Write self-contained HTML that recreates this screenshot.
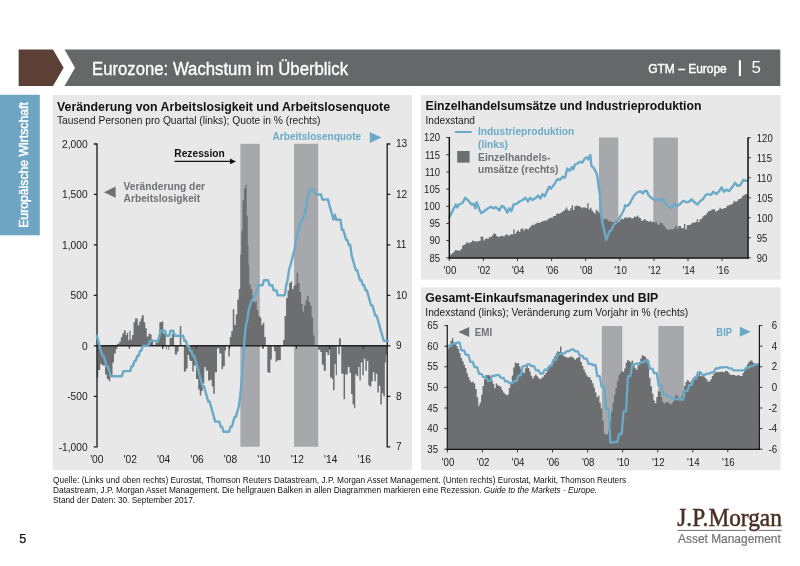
<!DOCTYPE html>
<html lang="de"><head><meta charset="utf-8"><title>Eurozone: Wachstum im Überblick</title>
<style>html,body{margin:0;padding:0;background:#fff}svg{display:block;filter:blur(0.3px)}text{font-family:"Liberation Sans",sans-serif}text.sf{font-family:"Liberation Serif",serif}</style>
</head><body>
<svg width="800" height="566" viewBox="0 0 800 566">
<rect x="0" y="0" width="800" height="566" fill="#fff"/>
<polygon points="18.6,49.6 53,49.6 63.6,67.8 53,86.1 18.6,86.1" fill="#5c4035"/>
<polygon points="64.5,49.6 780.3,49.6 780.3,86.1 64.5,86.1 75,67.8" fill="#666769"/>
<text x="92.0" y="75.3" font-size="18.5" fill="#fff" textLength="256.0" lengthAdjust="spacingAndGlyphs" stroke="#fff" stroke-width="0.35">Eurozone: Wachstum im Überblick</text>
<text x="648.2" y="72.7" font-size="13.3" fill="#fff" textLength="78.6" lengthAdjust="spacingAndGlyphs" stroke="#fff" stroke-width="0.45">GTM – Europe</text>
<rect x="738.8" y="60.3" width="2.2" height="15.8" fill="#fff"/>
<text x="751.4" y="73.4" font-size="17" fill="#fff">5</text>
<rect x="0" y="94.8" width="39.8" height="140.5" fill="#6da5c3"/>
<text transform="translate(27.6,227.8) rotate(-90)" font-size="12" fill="#fff" stroke="#fff" stroke-width="0.45" textLength="125.6" lengthAdjust="spacingAndGlyphs">Europäische Wirtschaft</text>
<rect x="52.6" y="95" width="359.4" height="375.1" fill="#e8e8e9"/>
<rect x="421" y="95" width="359.6" height="184.6" fill="#e8e8e9"/>
<rect x="421" y="287.3" width="359.6" height="182.8" fill="#e8e8e9"/>
<text x="57.0" y="111.0" font-size="12.3" fill="#111" font-weight="bold" textLength="333.0" lengthAdjust="spacingAndGlyphs">Veränderung von Arbeitslosigkeit und Arbeitslosenquote</text>
<text x="57.0" y="123.8" font-size="10.25" fill="#1a1a1a" textLength="263.5" lengthAdjust="spacingAndGlyphs">Tausend Personen pro Quartal (links); Quote in % (rechts)</text>
<rect x="240.4" y="143.8" width="19.4" height="303" fill="#a7a8ab"/>
<rect x="294.1" y="143.8" width="24.1" height="303" fill="#a7a8ab"/>
<path d="M117.03 343.75h2.25v2.05h-2.25zM119.28 341.80h1.50v4.00h-1.50zM120.78 337.30h1.50v8.50h-1.50zM122.28 333.54h1.50v12.26h-1.50zM123.78 330.54h1.96v15.26h-1.96zM125.74 335.05h1.20v10.75h-1.20zM126.94 332.79h1.20v13.01h-1.20zM128.14 340.30h1.20v5.50h-1.20zM129.34 330.84h1.20v14.96h-1.20zM130.54 339.55h1.50v6.25h-1.50zM132.04 335.05h1.50v10.75h-1.50zM133.54 322.28h1.51v23.52h-1.51zM135.05 318.53h2.70v27.27h-2.70zM137.75 325.29h1.50v20.51h-1.50zM139.25 321.53h1.50v24.27h-1.50zM140.75 318.53h1.05v27.27h-1.05zM141.80 315.23h1.95v30.57h-1.95zM143.75 322.28h1.51v23.52h-1.51zM145.26 328.29h1.50v17.51h-1.50zM146.76 336.55h1.80v9.25h-1.80zM148.56 333.54h1.50v12.26h-1.50zM150.06 334.29h1.50v11.51h-1.50zM151.56 339.55h1.50v6.25h-1.50zM155.32 342.55h3.00v3.25h-3.00zM158.32 335.05h1.05v10.75h-1.05zM159.37 322.28h1.95v23.52h-1.95zM161.32 321.53h1.95v24.27h-1.95zM163.27 333.54h2.56v12.26h-2.56zM169.58 338.05h2.25v7.75h-2.25zM171.83 333.54h2.25v12.26h-2.25zM179.79 326.04h1.50v19.76h-1.50zM162.52 345.80h0.90v2.76h-0.90zM166.13 345.80h0.90v3.51h-0.90zM168.38 345.80h0.90v4.26h-0.90zM174.83 345.80h2.26v8.76h-2.26zM177.09 345.80h1.50v5.76h-1.50zM96.76 345.80h1.50v31.74h-1.50zM98.26 345.80h1.95v24.23h-1.95zM100.21 345.80h1.80v18.22h-1.80zM102.01 345.80h3.01v19.73h-3.01zM105.02 345.80h1.80v28.73h-1.80zM106.82 345.80h1.95v33.24h-1.95zM108.77 345.80h1.50v35.49h-1.50zM110.27 345.80h2.25v29.49h-2.25zM112.52 345.80h1.50v16.72h-1.50zM114.02 345.80h1.81v7.71h-1.81zM115.83 345.80h1.50v3.21h-1.50zM183.84 345.80h2.26v25.73h-2.26zM186.10 345.80h1.50v22.73h-1.50zM187.60 345.80h1.50v9.22h-1.50zM189.10 345.80h0.90v13.72h-0.90zM190.00 345.80h2.25v15.22h-2.25zM192.25 345.80h1.50v25.73h-1.50zM193.75 345.80h2.26v19.73h-2.26zM196.01 345.80h2.25v33.24h-2.25zM198.26 345.80h1.50v43.75h-1.50zM199.76 345.80h1.50v49.76h-1.50zM201.26 345.80h1.50v45.25h-1.50zM202.76 345.80h1.50v37.74h-1.50zM204.26 345.80h1.51v21.23h-1.51zM205.77 345.80h2.25v24.98h-2.25zM208.02 345.80h2.25v34.74h-2.25zM210.27 345.80h1.50v33.99h-1.50zM211.77 345.80h1.50v40.75h-1.50zM213.27 345.80h1.50v47.95h-1.50zM214.77 345.80h2.26v26.48h-2.26zM217.03 345.80h2.25v2.46h-2.25zM219.28 345.80h2.25v7.71h-2.25zM221.53 345.80h1.50v23.48h-1.50zM223.03 345.80h1.80v20.48h-1.80zM224.83 345.80h1.21v4.71h-1.21zM228.29 345.80h1.50v10.72h-1.50zM262.37 345.80h1.20v2.46h-1.20zM267.33 345.80h1.50v26.48h-1.50zM268.83 345.80h1.50v27.23h-1.50zM270.33 345.80h1.50v13.72h-1.50zM274.08 345.80h1.51v5.46h-1.51zM275.59 345.80h1.50v15.97h-1.50zM277.09 345.80h3.75v14.47h-3.75zM229.76 337.06h1.50v8.74h-1.50zM231.26 331.05h1.50v14.75h-1.50zM232.76 309.28h1.50v36.52h-1.50zM234.26 325.05h1.51v20.75h-1.51zM235.77 314.53h1.50v31.27h-1.50zM237.27 299.52h1.50v46.28h-1.50zM238.77 289.01h1.50v56.79h-1.50zM240.27 254.47h1.05v91.33h-1.05zM241.32 230.45h1.20v115.35h-1.20zM242.52 200.42h1.50v145.38h-1.50zM244.02 188.41h1.51v157.39h-1.51zM245.53 184.65h1.20v161.15h-1.20zM246.73 215.44h1.05v130.36h-1.05zM247.78 245.47h0.75v100.33h-0.75zM248.53 264.98h0.75v80.82h-0.75zM249.28 284.50h1.50v61.30h-1.50zM250.78 289.01h1.50v56.79h-1.50zM252.28 296.52h1.50v49.28h-1.50zM253.78 302.52h1.51v43.28h-1.51zM255.29 301.02h1.50v44.78h-1.50zM256.79 310.03h1.50v35.77h-1.50zM258.29 316.04h1.50v29.76h-1.50zM259.79 317.54h1.50v28.26h-1.50zM261.29 325.05h1.50v20.75h-1.50zM262.79 322.79h1.50v23.01h-1.50zM264.29 337.06h1.51v8.74h-1.51zM283.06 340.06h1.50v5.74h-1.50zM284.56 316.04h1.51v29.76h-1.51zM286.07 298.02h1.50v47.78h-1.50zM287.57 290.51h1.50v55.29h-1.50zM289.07 283.00h1.50v62.80h-1.50zM290.57 281.50h1.50v64.30h-1.50zM292.07 289.01h1.50v56.79h-1.50zM293.57 286.01h1.51v59.79h-1.51zM295.08 284.50h1.50v61.30h-1.50zM296.58 272.79h1.50v73.01h-1.50zM298.08 283.00h1.50v62.80h-1.50zM299.58 292.01h1.50v53.79h-1.50zM301.08 304.02h1.50v41.78h-1.50zM302.58 311.53h1.50v34.27h-1.50zM304.08 305.53h1.51v40.27h-1.51zM305.59 300.27h1.50v45.53h-1.50zM307.09 295.77h1.50v50.03h-1.50zM308.59 301.77h1.50v44.03h-1.50zM310.09 305.53h1.50v40.27h-1.50zM311.59 317.54h1.50v28.26h-1.50zM313.09 335.56h1.50v10.24h-1.50zM338.92 338.56h1.20v7.24h-1.20zM318.02 345.80h2.25v3.97h-2.25zM320.27 345.80h1.50v6.23h-1.50zM321.77 345.80h1.95v18.99h-1.95zM323.72 345.80h2.11v25.00h-2.11zM325.83 345.80h1.50v6.23h-1.50zM327.33 345.80h1.95v9.23h-1.95zM329.28 345.80h0.75v3.97h-0.75zM330.03 345.80h1.80v31.75h-1.80zM331.83 345.80h1.20v33.25h-1.20zM333.03 345.80h1.50v44.52h-1.50zM334.53 345.80h1.21v18.24h-1.21zM335.74 345.80h1.20v29.50h-1.20zM338.29 345.80h1.50v8.48h-1.50zM341.29 345.80h2.25v28.00h-2.25zM343.54 345.80h1.51v53.52h-1.51zM345.05 345.80h2.70v28.75h-2.70zM347.75 345.80h1.80v21.24h-1.80zM349.55 345.80h1.50v27.25h-1.50zM351.05 345.80h1.50v48.27h-1.50zM352.55 345.80h1.50v58.78h-1.50zM354.05 345.80h1.21v62.53h-1.21zM355.26 345.80h1.50v28.75h-1.50zM356.76 345.80h1.50v30.25h-1.50zM358.26 345.80h1.20v21.24h-1.20zM359.46 345.80h1.35v34.76h-1.35zM360.81 345.80h1.50v16.74h-1.50zM362.31 345.80h1.50v29.50h-1.50zM363.81 345.80h1.51v12.98h-1.51zM365.32 345.80h1.50v25.00h-1.50zM366.82 345.80h1.50v15.24h-1.50zM368.32 345.80h1.05v39.26h-1.05zM369.37 345.80h1.95v40.76h-1.95zM371.32 345.80h1.50v35.51h-1.50zM372.82 345.80h1.50v26.50h-1.50zM374.32 345.80h1.51v35.51h-1.51zM375.83 345.80h1.50v28.00h-1.50zM377.33 345.80h1.50v46.77h-1.50zM378.83 345.80h1.50v40.01h-1.50zM380.33 345.80h1.50v58.78h-1.50zM381.83 345.80h1.50v47.52h-1.50zM383.33 345.80h1.50v50.52h-1.50zM384.83 345.80h1.06v16.74h-1.06zM385.89 345.80h1.20v9.23h-1.20zM339.34 338.21h1.50v7.59h-1.50z" fill="#6d6e70"/>
<path d="M93.8 144H97V446.8H93.8M93.8 194.4H97M93.8 244.9H97M93.8 295.3H97M93.8 345.8H97M93.8 396.3H97" fill="none" stroke="#1a1a1a" stroke-width="1.3"/>
<path d="M390.3 144H387.2V446.8H390.3M387.2 194.4H390.3M387.2 244.9H390.3M387.2 295.3H390.3M387.2 345.8H390.3M387.2 396.3H390.3" fill="none" stroke="#1a1a1a" stroke-width="1.3"/>
<path d="M96.5 345.8H387.5" stroke="#222" stroke-width="1.6" fill="none"/><path d="M129.3 345.8v3M162.7 345.8v3M196.2 345.8v3M229.6 345.8v3M263.0 345.8v3M296.4 345.8v3M329.8 345.8v3M363.3 345.8v3" stroke="#222" stroke-width="1" fill="none"/>
<polyline points="96.8,335.8 98.2,340.9 99.6,345.9 101.0,350.9 102.4,356.0 103.8,356.0 105.2,361.0 106.5,366.1 107.9,366.1 109.3,371.1 110.7,376.2 112.1,376.2 113.5,376.2 114.9,376.2 116.3,376.2 117.7,376.2 119.1,376.2 120.5,376.2 121.9,376.2 123.3,371.1 124.7,371.1 126.0,371.1 127.4,371.1 128.8,371.1 130.2,371.1 131.6,366.1 133.0,366.1 134.4,361.0 135.8,361.0 137.2,356.0 138.6,356.0 140.0,350.9 141.4,350.9 142.8,345.9 144.1,345.9 145.5,345.9 146.9,345.9 148.3,345.9 149.7,340.9 151.1,340.9 152.5,340.9 153.9,340.9 155.3,340.9 156.7,340.9 158.1,340.9 159.5,335.8 160.9,330.8 162.2,330.8 163.6,330.8 165.0,330.8 166.4,335.8 167.8,335.8 169.2,335.8 170.6,330.8 172.0,330.8 173.4,330.8 174.8,335.8 176.2,335.8 177.6,335.8 179.0,335.8 180.4,335.8 181.7,335.8 183.1,335.8 184.5,340.9 185.9,340.9 187.3,345.9 188.7,345.9 190.1,350.9 191.5,350.9 192.9,356.0 194.3,356.0 195.7,361.0 197.1,366.1 198.5,371.1 199.8,376.2 201.2,381.2 202.6,386.3 204.0,386.3 205.4,391.3 206.8,396.4 208.2,401.4 209.6,401.4 211.0,406.5 212.4,411.5 213.8,416.6 215.2,421.6 216.6,421.6 217.9,421.6 219.3,421.6 220.7,426.7 222.1,426.7 223.5,431.7 224.9,431.7 226.3,431.7 227.7,431.7 229.1,431.7 230.5,426.7 231.9,426.7 233.3,421.6 234.7,416.6 236.1,416.6 237.4,411.5 238.8,406.5 240.2,396.4 241.6,381.2 243.0,361.0 244.4,340.9 245.8,325.7 247.2,320.7 248.6,310.6 250.0,305.5 251.4,300.5 252.8,300.5 254.2,295.4 255.5,295.4 256.9,290.4 258.3,285.3 259.7,285.3 261.1,285.3 262.5,285.3 263.9,280.3 265.3,280.3 266.7,280.3 268.1,280.3 269.5,285.3 270.9,285.3 272.3,285.3 273.6,290.4 275.0,290.4 276.4,290.4 277.8,295.4 279.2,295.4 280.6,295.4 282.0,295.4 283.4,295.4 284.8,295.4 286.2,285.3 287.6,280.3 289.0,270.2 290.4,265.1 291.8,260.1 293.1,255.1 294.5,250.0 295.9,239.9 297.3,234.9 298.7,229.8 300.1,224.8 301.5,219.7 302.9,219.7 304.3,214.7 305.7,209.6 307.1,199.5 308.5,194.5 309.9,189.4 311.2,189.4 312.6,189.4 314.0,189.4 315.4,194.5 316.8,194.5 318.2,194.5 319.6,194.5 321.0,194.5 322.4,199.5 323.8,199.5 325.2,199.5 326.6,199.5 328.0,199.5 329.3,204.6 330.7,209.6 332.1,214.7 333.5,219.7 334.9,214.7 336.3,219.7 337.7,219.7 339.1,219.7 340.5,219.7 341.9,229.8 343.3,229.8 344.7,234.9 346.1,239.9 347.4,239.9 348.8,245.0 350.2,245.0 351.6,255.1 353.0,260.1 354.4,265.1 355.8,270.2 357.2,270.2 358.6,275.2 360.0,280.3 361.4,280.3 362.8,285.3 364.2,285.3 365.6,290.4 366.9,290.4 368.3,295.4 369.7,300.5 371.1,305.5 372.5,305.5 373.9,310.6 375.3,315.6 376.7,315.6 378.1,320.7 379.5,325.7 380.9,330.8 382.3,335.8 383.7,340.9 385.0,340.9 386.4,340.9 387.8,340.9" fill="none" stroke="#6aaac8" stroke-width="2.4" stroke-linejoin="round" stroke-linecap="round"/>
<text x="87.6" y="147.7" font-size="10.2" fill="#1a1a1a" text-anchor="end">2,000</text>
<text x="87.6" y="198.1" font-size="10.2" fill="#1a1a1a" text-anchor="end">1,500</text>
<text x="87.6" y="248.6" font-size="10.2" fill="#1a1a1a" text-anchor="end">1,000</text>
<text x="87.6" y="299.1" font-size="10.2" fill="#1a1a1a" text-anchor="end">500</text>
<text x="87.6" y="349.5" font-size="10.2" fill="#1a1a1a" text-anchor="end">0</text>
<text x="87.6" y="400.0" font-size="10.2" fill="#1a1a1a" text-anchor="end">-500</text>
<text x="87.6" y="450.5" font-size="10.2" fill="#1a1a1a" text-anchor="end">-1,000</text>
<text x="395.9" y="147.3" font-size="10.2" fill="#1a1a1a">13</text>
<text x="395.9" y="197.8" font-size="10.2" fill="#1a1a1a">12</text>
<text x="395.9" y="248.2" font-size="10.2" fill="#1a1a1a">11</text>
<text x="395.9" y="298.7" font-size="10.2" fill="#1a1a1a">10</text>
<text x="395.9" y="349.2" font-size="10.2" fill="#1a1a1a">9</text>
<text x="395.9" y="399.7" font-size="10.2" fill="#1a1a1a">8</text>
<text x="395.9" y="450.1" font-size="10.2" fill="#1a1a1a">7</text>
<text x="96.8" y="462.7" font-size="10.2" fill="#1a1a1a" text-anchor="middle">'00</text>
<text x="130.2" y="462.7" font-size="10.2" fill="#1a1a1a" text-anchor="middle">'02</text>
<text x="163.6" y="462.7" font-size="10.2" fill="#1a1a1a" text-anchor="middle">'04</text>
<text x="197.1" y="462.7" font-size="10.2" fill="#1a1a1a" text-anchor="middle">'06</text>
<text x="230.5" y="462.7" font-size="10.2" fill="#1a1a1a" text-anchor="middle">'08</text>
<text x="263.9" y="462.7" font-size="10.2" fill="#1a1a1a" text-anchor="middle">'10</text>
<text x="297.3" y="462.7" font-size="10.2" fill="#1a1a1a" text-anchor="middle">'12</text>
<text x="330.7" y="462.7" font-size="10.2" fill="#1a1a1a" text-anchor="middle">'14</text>
<text x="364.2" y="462.7" font-size="10.2" fill="#1a1a1a" text-anchor="middle">'16</text>
<text x="174.3" y="157.0" font-size="10.2" fill="#111" font-weight="bold" textLength="50.5" lengthAdjust="spacingAndGlyphs">Rezession</text>
<path d="M174.5 161.4H231" stroke="#111" stroke-width="1.1" fill="none"/><polygon points="236,161.4 230,158.5 230,164.3" fill="#111"/>
<polygon points="104,192.2 115.6,186.6 115.6,197.8" fill="#6f7072"/>
<text x="123.6" y="189.6" font-size="10.2" fill="#6f7072" font-weight="bold" textLength="81.5" lengthAdjust="spacingAndGlyphs">Veränderung der</text>
<text x="123.6" y="202.2" font-size="10.2" fill="#6f7072" font-weight="bold" textLength="76.5" lengthAdjust="spacingAndGlyphs">Arbeitslosigkeit</text>
<text x="272.6" y="140.2" font-size="10.2" fill="#6aaac8" font-weight="bold" textLength="88.5" lengthAdjust="spacingAndGlyphs">Arbeitslosenquote</text>
<polygon points="381.5,137.5 369.8,132 369.8,143" fill="#6aaac8"/>
<text x="425.5" y="110.3" font-size="12.3" fill="#111" font-weight="bold" textLength="276.0" lengthAdjust="spacingAndGlyphs">Einzelhandelsumsätze und Industrieproduktion</text>
<text x="425.5" y="123.8" font-size="10.25" fill="#1a1a1a" textLength="49.5" lengthAdjust="spacingAndGlyphs">Indexstand</text>
<rect x="599" y="137.5" width="19.3" height="120.3" fill="#a7a8ab"/>
<rect x="653.4" y="137.5" width="24.5" height="120.3" fill="#a7a8ab"/>
<polygon points="449.3,257.8 449.3,255.3 450.7,255.3 450.7,254.2 452.1,254.2 452.1,253.0 453.6,253.0 453.6,251.5 455.0,251.5 455.0,249.9 456.4,249.9 456.4,250.5 457.8,250.5 457.8,250.8 459.3,250.8 459.3,250.5 460.7,250.5 460.7,248.9 462.1,248.9 462.1,245.6 463.5,245.6 463.5,245.1 464.9,245.1 464.9,243.7 466.4,243.7 466.4,242.0 467.8,242.0 467.8,243.2 469.2,243.2 469.2,242.7 470.6,242.7 470.6,242.1 472.0,242.1 472.0,240.5 473.5,240.5 473.5,241.3 474.9,241.3 474.9,241.3 476.3,241.3 476.3,241.6 477.7,241.6 477.7,241.2 479.2,241.2 479.2,240.7 480.6,240.7 480.6,236.5 482.0,236.5 482.0,236.8 483.4,236.8 483.4,240.6 484.8,240.6 484.8,238.8 486.3,238.8 486.3,238.5 487.7,238.5 487.7,238.7 489.1,238.7 489.1,236.7 490.5,236.7 490.5,236.9 492.0,236.9 492.0,235.3 493.4,235.3 493.4,233.2 494.8,233.2 494.8,233.9 496.2,233.9 496.2,236.0 497.6,236.0 497.6,236.9 499.1,236.9 499.1,236.4 500.5,236.4 500.5,236.0 501.9,236.0 501.9,235.8 503.3,235.8 503.3,236.7 504.7,236.7 504.7,234.9 506.2,234.9 506.2,234.3 507.6,234.3 507.6,235.6 509.0,235.6 509.0,235.5 510.4,235.5 510.4,234.2 511.9,234.2 511.9,234.6 513.3,234.6 513.3,229.4 514.7,229.4 514.7,234.0 516.1,234.0 516.1,231.5 517.5,231.5 517.5,230.4 519.0,230.4 519.0,232.0 520.4,232.0 520.4,229.1 521.8,229.1 521.8,228.3 523.2,228.3 523.2,230.6 524.7,230.6 524.7,228.7 526.1,228.7 526.1,228.8 527.5,228.8 527.5,229.4 528.9,229.4 528.9,227.7 530.3,227.7 530.3,226.3 531.8,226.3 531.8,224.7 533.2,224.7 533.2,225.3 534.6,225.3 534.6,223.8 536.0,223.8 536.0,223.2 537.4,223.2 537.4,222.5 538.9,222.5 538.9,223.1 540.3,223.1 540.3,222.1 541.7,222.1 541.7,221.6 543.1,221.6 543.1,220.8 544.6,220.8 544.6,220.5 546.0,220.5 546.0,220.4 547.4,220.4 547.4,219.2 548.8,219.2 548.8,218.2 550.2,218.2 550.2,217.8 551.7,217.8 551.7,217.8 553.1,217.8 553.1,216.1 554.5,216.1 554.5,216.0 555.9,216.0 555.9,214.2 557.3,214.2 557.3,213.2 558.8,213.2 558.8,213.8 560.2,213.8 560.2,212.9 561.6,212.9 561.6,211.8 563.0,211.8 563.0,211.1 564.5,211.1 564.5,209.5 565.9,209.5 565.9,207.4 567.3,207.4 567.3,210.0 568.7,210.0 568.7,211.0 570.1,211.0 570.1,208.6 571.6,208.6 571.6,205.3 573.0,205.3 573.0,209.9 574.4,209.9 574.4,206.2 575.8,206.2 575.8,205.7 577.3,205.7 577.3,205.8 578.7,205.8 578.7,206.3 580.1,206.3 580.1,207.0 581.5,207.0 581.5,208.2 582.9,208.2 582.9,207.3 584.4,207.3 584.4,207.5 585.8,207.5 585.8,208.3 587.2,208.3 587.2,203.3 588.6,203.3 588.6,209.5 590.0,209.5 590.0,207.8 591.5,207.8 591.5,210.4 592.9,210.4 592.9,212.3 594.3,212.3 594.3,213.5 595.7,213.5 595.7,209.7 597.2,209.7 597.2,211.2 598.6,211.2 598.6,213.1 600.0,213.1 600.0,215.4 601.4,215.4 601.4,216.3 602.8,216.3 602.8,219.3 604.3,219.3 604.3,219.6 605.7,219.6 605.7,218.5 607.1,218.5 607.1,219.9 608.5,219.9 608.5,221.5 610.0,221.5 610.0,221.2 611.4,221.2 611.4,222.1 612.8,222.1 612.8,222.1 614.2,222.1 614.2,222.3 615.6,222.3 615.6,219.9 617.1,219.9 617.1,221.2 618.5,221.2 618.5,221.8 619.9,221.8 619.9,219.6 621.3,219.6 621.3,218.7 622.7,218.7 622.7,219.3 624.2,219.3 624.2,217.8 625.6,217.8 625.6,217.2 627.0,217.2 627.0,218.2 628.4,218.2 628.4,217.1 629.9,217.1 629.9,217.8 631.3,217.8 631.3,218.4 632.7,218.4 632.7,217.9 634.1,217.9 634.1,216.3 635.5,216.3 635.5,217.0 637.0,217.0 637.0,215.6 638.4,215.6 638.4,217.6 639.8,217.6 639.8,218.2 641.2,218.2 641.2,221.1 642.7,221.1 642.7,220.1 644.1,220.1 644.1,218.9 645.5,218.9 645.5,220.4 646.9,220.4 646.9,221.1 648.3,221.1 648.3,221.7 649.8,221.7 649.8,220.8 651.2,220.8 651.2,222.0 652.6,222.0 652.6,221.7 654.0,221.7 654.0,223.0 655.4,223.0 655.4,221.6 656.9,221.6 656.9,224.2 658.3,224.2 658.3,225.3 659.7,225.3 659.7,222.5 661.1,222.5 661.1,223.1 662.6,223.1 662.6,225.2 664.0,225.2 664.0,226.2 665.4,226.2 665.4,228.3 666.8,228.3 666.8,229.7 668.2,229.7 668.2,229.9 669.7,229.9 669.7,229.2 671.1,229.2 671.1,228.9 672.5,228.9 672.5,229.5 673.9,229.5 673.9,227.8 675.4,227.8 675.4,225.6 676.8,225.6 676.8,228.5 678.2,228.5 678.2,226.1 679.6,226.1 679.6,226.0 681.0,226.0 681.0,227.9 682.5,227.9 682.5,228.2 683.9,228.2 683.9,224.0 685.3,224.0 685.3,229.2 686.7,229.2 686.7,225.2 688.1,225.2 688.1,224.9 689.6,224.9 689.6,224.7 691.0,224.7 691.0,223.6 692.4,223.6 692.4,222.5 693.8,222.5 693.8,222.8 695.3,222.8 695.3,222.0 696.7,222.0 696.7,219.3 698.1,219.3 698.1,222.3 699.5,222.3 699.5,219.3 700.9,219.3 700.9,218.8 702.4,218.8 702.4,216.5 703.8,216.5 703.8,215.5 705.2,215.5 705.2,214.7 706.6,214.7 706.6,212.7 708.0,212.7 708.0,211.2 709.5,211.2 709.5,211.0 710.9,211.0 710.9,209.7 712.3,209.7 712.3,209.3 713.7,209.3 713.7,209.2 715.2,209.2 715.2,211.5 716.6,211.5 716.6,210.7 718.0,210.7 718.0,210.0 719.4,210.0 719.4,207.7 720.8,207.7 720.8,208.7 722.3,208.7 722.3,209.0 723.7,209.0 723.7,208.0 725.1,208.0 725.1,207.9 726.5,207.9 726.5,205.8 728.0,205.8 728.0,205.4 729.4,205.4 729.4,204.7 730.8,204.7 730.8,204.4 732.2,204.4 732.2,203.5 733.6,203.5 733.6,200.7 735.1,200.7 735.1,202.1 736.5,202.1 736.5,201.0 737.9,201.0 737.9,199.3 739.3,199.3 739.3,199.0 740.7,199.0 740.7,198.0 742.2,198.0 742.2,196.1 743.6,196.1 743.6,194.9 745.0,194.9 745.0,193.9 746.4,193.9 746.4,194.6 747.7,194.6 747.7,257.8" fill="#6d6e70"/>
<polyline points="449.3,217.3 451.3,213.5 453.5,209.0 455.8,204.5 457.3,207.5 458.8,204.5 462.5,203.0 465.2,197.8 467.8,200.0 471.6,204.5 473.8,203.8 475.3,208.3 476.8,202.3 479.1,209.0 481.3,213.2 485.1,210.5 488.1,208.3 491.1,206.8 493.3,208.3 495.6,207.2 497.8,208.7 499.3,210.5 501.6,206.0 503.8,206.8 505.3,209.0 507.3,212.8 509.1,208.3 511.3,211.3 513.6,204.5 516.6,203.8 519.6,201.5 522.6,200.0 525.6,197.8 527.9,201.5 530.1,197.8 532.4,200.0 534.6,198.5 535.0,198.6 538.0,195.6 540.3,198.6 542.5,194.1 544.8,196.3 547.0,191.1 549.3,186.6 550.8,188.8 553.8,185.1 557.5,179.1 559.8,179.8 562.8,176.8 565.0,177.6 567.3,168.5 569.5,170.8 571.8,167.0 573.3,169.3 574.8,164.8 577.8,163.3 580.0,161.8 582.3,162.5 584.5,158.8 586.8,157.3 588.3,159.5 590.3,155.0 591.3,165.5 593.6,167.8 595.8,171.6 597.3,176.1 598.8,188.1 599.9,194.0 600.3,204.5 601.8,219.5 604.1,230.1 606.3,239.8 607.8,236.1 609.3,231.6 611.6,230.1 613.1,225.5 615.3,223.3 617.6,221.0 619.8,217.3 622.1,213.5 624.3,209.0 625.1,205.3 627.3,206.0 629.6,203.8 631.9,199.3 634.1,195.5 637.1,192.5 640.1,191.3 643.0,193.3 644.5,191.0 646.8,191.0 648.3,194.8 651.3,197.8 654.3,200.0 657.3,199.3 660.0,200.6 663.0,198.6 665.3,203.1 668.3,206.8 671.3,208.3 674.3,203.8 677.3,206.1 680.3,203.8 683.3,200.8 686.3,202.3 689.3,201.6 691.5,199.3 694.5,202.3 697.5,204.6 699.8,201.6 702.8,199.3 705.8,194.8 708.0,194.1 711.0,194.8 713.3,191.8 716.3,194.1 719.3,191.1 721.6,187.3 723.8,191.8 726.1,189.6 729.1,191.1 732.1,187.3 735.1,182.8 737.3,185.8 740.3,185.1 743.3,179.8 745.6,180.9 747.8,180.6" fill="none" stroke="#6aaac8" stroke-width="2.4" stroke-linejoin="round" stroke-linecap="round"/>
<path d="M449.3 137V258.6" fill="none" stroke="#111" stroke-width="1.5"/><path d="M446.2 137.5H449.3M446.2 154.7H449.3M446.2 171.9H449.3M446.2 189.1H449.3M446.2 206.3H449.3M446.2 223.4H449.3M446.2 240.6H449.3M446.2 257.8H449.3" fill="none" stroke="#222" stroke-width="0.9"/>
<path d="M748 137.3V258.6" fill="none" stroke="#111" stroke-width="1.5"/><path d="M750.8 137.8H748M750.8 157.8H748M750.8 177.8H748M750.8 197.8H748M750.8 217.8H748M750.8 237.8H748M750.8 257.8H748" fill="none" stroke="#222" stroke-width="0.9"/>
<path d="M448.6 258H748.7" fill="none" stroke="#111" stroke-width="1.4"/><path d="M449.3 258v3M483.4 258v3M517.5 258v3M551.6 258v3M585.7 258v3M619.8 258v3M653.9 258v3M688.0 258v3M722.1 258v3" fill="none" stroke="#222" stroke-width="0.9"/>
<text x="440.0" y="141.3" font-size="10.3" fill="#1a1a1a" text-anchor="end" textLength="15.9" lengthAdjust="spacingAndGlyphs">120</text>
<text x="440.0" y="158.5" font-size="10.3" fill="#1a1a1a" text-anchor="end" textLength="15.1" lengthAdjust="spacingAndGlyphs">115</text>
<text x="440.0" y="175.7" font-size="10.3" fill="#1a1a1a" text-anchor="end" textLength="15.1" lengthAdjust="spacingAndGlyphs">110</text>
<text x="440.0" y="192.9" font-size="10.3" fill="#1a1a1a" text-anchor="end" textLength="15.9" lengthAdjust="spacingAndGlyphs">105</text>
<text x="440.0" y="210.1" font-size="10.3" fill="#1a1a1a" text-anchor="end" textLength="15.9" lengthAdjust="spacingAndGlyphs">100</text>
<text x="440.0" y="227.2" font-size="10.3" fill="#1a1a1a" text-anchor="end" textLength="10.6" lengthAdjust="spacingAndGlyphs">95</text>
<text x="440.0" y="244.4" font-size="10.3" fill="#1a1a1a" text-anchor="end" textLength="10.6" lengthAdjust="spacingAndGlyphs">90</text>
<text x="440.0" y="261.6" font-size="10.3" fill="#1a1a1a" text-anchor="end" textLength="10.6" lengthAdjust="spacingAndGlyphs">85</text>
<text x="756.8" y="141.6" font-size="10.3" fill="#1a1a1a" textLength="15.9" lengthAdjust="spacingAndGlyphs">120</text>
<text x="756.8" y="161.6" font-size="10.3" fill="#1a1a1a" textLength="15.1" lengthAdjust="spacingAndGlyphs">115</text>
<text x="756.8" y="181.6" font-size="10.3" fill="#1a1a1a" textLength="15.1" lengthAdjust="spacingAndGlyphs">110</text>
<text x="756.8" y="201.6" font-size="10.3" fill="#1a1a1a" textLength="15.9" lengthAdjust="spacingAndGlyphs">105</text>
<text x="756.8" y="221.6" font-size="10.3" fill="#1a1a1a" textLength="15.9" lengthAdjust="spacingAndGlyphs">100</text>
<text x="756.8" y="241.6" font-size="10.3" fill="#1a1a1a" textLength="10.6" lengthAdjust="spacingAndGlyphs">95</text>
<text x="756.8" y="261.6" font-size="10.3" fill="#1a1a1a" textLength="10.6" lengthAdjust="spacingAndGlyphs">90</text>
<text x="450.0" y="273.9" font-size="10.3" fill="#1a1a1a" text-anchor="middle" textLength="12.6" lengthAdjust="spacingAndGlyphs">'00</text>
<text x="484.1" y="273.9" font-size="10.3" fill="#1a1a1a" text-anchor="middle" textLength="12.6" lengthAdjust="spacingAndGlyphs">'02</text>
<text x="518.2" y="273.9" font-size="10.3" fill="#1a1a1a" text-anchor="middle" textLength="12.6" lengthAdjust="spacingAndGlyphs">'04</text>
<text x="552.3" y="273.9" font-size="10.3" fill="#1a1a1a" text-anchor="middle" textLength="12.6" lengthAdjust="spacingAndGlyphs">'06</text>
<text x="586.4" y="273.9" font-size="10.3" fill="#1a1a1a" text-anchor="middle" textLength="12.6" lengthAdjust="spacingAndGlyphs">'08</text>
<text x="620.5" y="273.9" font-size="10.3" fill="#1a1a1a" text-anchor="middle" textLength="12.6" lengthAdjust="spacingAndGlyphs">'10</text>
<text x="654.6" y="273.9" font-size="10.3" fill="#1a1a1a" text-anchor="middle" textLength="12.6" lengthAdjust="spacingAndGlyphs">'12</text>
<text x="688.7" y="273.9" font-size="10.3" fill="#1a1a1a" text-anchor="middle" textLength="12.6" lengthAdjust="spacingAndGlyphs">'14</text>
<text x="722.8" y="273.9" font-size="10.3" fill="#1a1a1a" text-anchor="middle" textLength="12.6" lengthAdjust="spacingAndGlyphs">'16</text>
<path d="M455 132H471.7" stroke="#6aaac8" stroke-width="2" fill="none"/>
<text x="478.0" y="135.2" font-size="10.2" fill="#6aaac8" font-weight="bold" textLength="96.3" lengthAdjust="spacingAndGlyphs">Industrieproduktion</text>
<text x="478.0" y="147.5" font-size="10.2" fill="#6aaac8" font-weight="bold" textLength="30.0" lengthAdjust="spacingAndGlyphs">(links)</text>
<rect x="457.2" y="151" width="12.4" height="11.6" fill="#6d6e70"/>
<text x="478.0" y="161.0" font-size="10.2" fill="#6f7072" font-weight="bold" textLength="72.5" lengthAdjust="spacingAndGlyphs">Einzelhandels-</text>
<text x="478.0" y="173.4" font-size="10.2" fill="#6f7072" font-weight="bold" textLength="80.5" lengthAdjust="spacingAndGlyphs">umsätze (rechts)</text>
<text x="425.3" y="301.8" font-size="12.3" fill="#111" font-weight="bold" textLength="233.0" lengthAdjust="spacingAndGlyphs">Gesamt-Einkaufsmanagerindex und BIP</text>
<text x="425.3" y="315.6" font-size="10.25" fill="#1a1a1a" textLength="263.0" lengthAdjust="spacingAndGlyphs">Indexstand (links); Veränderung zum Vorjahr in % (rechts)</text>
<rect x="601.8" y="326" width="20.5" height="123.2" fill="#a7a8ab"/>
<rect x="658.3" y="326" width="25.5" height="123.2" fill="#a7a8ab"/>
<polygon points="447.5,449.2 447.5,348.3 449.0,348.3 449.0,344.7 450.4,344.7 450.4,340.9 451.9,340.9 451.9,338.0 453.3,338.0 453.3,342.3 454.8,342.3 454.8,343.8 456.3,343.8 456.3,346.3 457.7,346.3 457.7,349.1 459.2,349.1 459.2,353.2 460.6,353.2 460.6,358.1 462.1,358.1 462.1,361.2 463.6,361.2 463.6,364.7 465.0,364.7 465.0,368.1 466.5,368.1 466.5,373.3 467.9,373.3 467.9,377.1 469.4,377.1 469.4,380.5 470.9,380.5 470.9,382.5 472.3,382.5 472.3,381.8 473.8,381.8 473.8,383.5 475.2,383.5 475.2,388.9 476.7,388.9 476.7,397.2 478.2,397.2 478.2,405.7 479.6,405.7 479.6,402.6 481.1,402.6 481.1,394.8 482.5,394.8 482.5,385.9 484.0,385.9 484.0,379.2 485.5,379.2 485.5,375.1 486.9,375.1 486.9,375.2 488.4,375.2 488.4,375.0 489.9,375.0 489.9,376.6 491.3,376.6 491.3,380.3 492.8,380.3 492.8,383.8 494.2,383.8 494.2,388.2 495.7,388.2 495.7,383.5 497.2,383.5 497.2,385.2 498.6,385.2 498.6,386.0 500.1,386.0 500.1,386.8 501.5,386.8 501.5,390.1 503.0,390.1 503.0,392.6 504.5,392.6 504.5,394.1 505.9,394.1 505.9,395.2 507.4,395.2 507.4,394.4 508.8,394.4 508.8,388.1 510.3,388.1 510.3,382.1 511.8,382.1 511.8,375.4 513.2,375.4 513.2,367.6 514.7,367.6 514.7,362.6 516.1,362.6 516.1,363.4 517.6,363.4 517.6,363.1 519.1,363.1 519.1,366.4 520.5,366.4 520.5,369.2 522.0,369.2 522.0,371.6 523.4,371.6 523.4,373.1 524.9,373.1 524.9,368.2 526.4,368.2 526.4,365.4 527.8,365.4 527.8,368.0 529.3,368.0 529.3,371.5 530.7,371.5 530.7,375.7 532.2,375.7 532.2,378.4 533.7,378.4 533.7,376.3 535.1,376.3 535.1,374.6 536.6,374.6 536.6,376.2 538.0,376.2 538.0,378.0 539.5,378.0 539.5,379.2 541.0,379.2 541.0,378.3 542.4,378.3 542.4,376.7 543.9,376.7 543.9,375.1 545.3,375.1 545.3,373.0 546.8,373.0 546.8,370.6 548.3,370.6 548.3,367.5 549.7,367.5 549.7,365.9 551.2,365.9 551.2,363.0 552.6,363.0 552.6,359.9 554.1,359.9 554.1,356.5 555.6,356.5 555.6,353.5 557.0,353.5 557.0,351.3 558.5,351.3 558.5,352.1 560.0,352.1 560.0,346.4 561.4,346.4 561.4,353.7 562.9,353.7 562.9,355.8 564.3,355.8 564.3,356.8 565.8,356.8 565.8,357.2 567.3,357.2 567.3,357.7 568.7,357.7 568.7,357.3 570.2,357.3 570.2,356.5 571.6,356.5 571.6,356.8 573.1,356.8 573.1,358.3 574.6,358.3 574.6,359.8 576.0,359.8 576.0,358.3 577.5,358.3 577.5,357.5 578.9,357.5 578.9,356.9 580.4,356.9 580.4,361.9 581.9,361.9 581.9,366.1 583.3,366.1 583.3,369.4 584.8,369.4 584.8,372.7 586.2,372.7 586.2,375.5 587.7,375.5 587.7,377.0 589.2,377.0 589.2,377.3 590.6,377.3 590.6,380.0 592.1,380.0 592.1,383.3 593.5,383.3 593.5,387.6 595.0,387.6 595.0,392.6 596.5,392.6 596.5,397.3 597.9,397.3 597.9,395.8 599.4,395.8 599.4,402.7 600.8,402.7 600.8,408.6 602.3,408.6 602.3,420.6 603.8,420.6 603.8,433.6 605.2,433.6 605.2,434.5 606.7,434.5 606.7,434.5 608.1,434.5 608.1,430.8 609.6,430.8 609.6,421.2 611.1,421.2 611.1,411.5 612.5,411.5 612.5,402.5 614.0,402.5 614.0,394.9 615.4,394.9 615.4,388.1 616.9,388.1 616.9,381.1 618.4,381.1 618.4,375.2 619.8,375.2 619.8,373.2 621.3,373.2 621.3,371.0 622.7,371.0 622.7,372.1 624.2,372.1 624.2,368.5 625.7,368.5 625.7,362.8 627.1,362.8 627.1,360.0 628.6,360.0 628.6,361.1 630.1,361.1 630.1,362.5 631.5,362.5 631.5,360.4 633.0,360.4 633.0,363.6 634.4,363.6 634.4,367.8 635.9,367.8 635.9,369.8 637.4,369.8 637.4,365.4 638.8,365.4 638.8,362.4 640.3,362.4 640.3,358.6 641.7,358.6 641.7,354.9 643.2,354.9 643.2,356.0 644.7,356.0 644.7,356.7 646.1,356.7 646.1,358.8 647.6,358.8 647.6,363.6 649.0,363.6 649.0,377.7 650.5,377.7 650.5,386.2 652.0,386.2 652.0,393.5 653.4,393.5 653.4,400.6 654.9,400.6 654.9,403.2 656.3,403.2 656.3,397.1 657.8,397.1 657.8,391.2 659.3,391.2 659.3,391.7 660.7,391.7 660.7,396.9 662.2,396.9 662.2,401.7 663.6,401.7 663.6,403.4 665.1,403.4 665.1,402.4 666.6,402.4 666.6,402.2 668.0,402.2 668.0,402.6 669.5,402.6 669.5,404.3 670.9,404.3 670.9,404.0 672.4,404.0 672.4,401.7 673.9,401.7 673.9,398.9 675.3,398.9 675.3,394.8 676.8,394.8 676.8,396.1 678.2,396.1 678.2,398.5 679.7,398.5 679.7,399.7 681.2,399.7 681.2,396.1 682.6,396.1 682.6,391.3 684.1,391.3 684.1,386.1 685.5,386.1 685.5,381.9 687.0,381.9 687.0,380.0 688.5,380.0 688.5,381.5 689.9,381.5 689.9,382.6 691.4,382.6 691.4,379.7 692.8,379.7 692.8,378.4 694.3,378.4 694.3,376.6 695.8,376.6 695.8,375.6 697.2,375.6 697.2,376.3 698.7,376.3 698.7,372.7 700.1,372.7 700.1,376.0 701.6,376.0 701.6,376.5 703.1,376.5 703.1,375.7 704.5,375.7 704.5,377.7 706.0,377.7 706.0,379.3 707.5,379.3 707.5,381.8 708.9,381.8 708.9,381.3 710.4,381.3 710.4,379.2 711.8,379.2 711.8,376.0 713.3,376.0 713.3,373.7 714.8,373.7 714.8,372.5 716.2,372.5 716.2,371.7 717.7,371.7 717.7,372.2 719.1,372.2 719.1,372.1 720.6,372.1 720.6,371.7 722.1,371.7 722.1,371.8 723.5,371.8 723.5,372.2 725.0,372.2 725.0,371.1 726.4,371.1 726.4,370.9 727.9,370.9 727.9,372.6 729.4,372.6 729.4,374.6 730.8,374.6 730.8,375.1 732.3,375.1 732.3,374.8 733.7,374.8 733.7,375.1 735.2,375.1 735.2,375.8 736.7,375.8 736.7,375.5 738.1,375.5 738.1,375.1 739.6,375.1 739.6,376.1 741.0,376.1 741.0,375.9 742.5,375.9 742.5,373.1 744.0,373.1 744.0,370.2 745.4,370.2 745.4,367.2 746.9,367.2 746.9,364.2 748.3,364.2 748.3,361.9 749.8,361.9 749.8,360.4 751.3,360.4 751.3,360.8 752.7,360.8 752.7,362.8 754.2,362.8 754.2,364.0 755.6,364.0 755.6,364.0 757.1,364.0 757.1,363.2 758.6,363.2 758.6,363.0 759.4,363.0 759.4,449.2" fill="#6d6e70"/>
<polyline points="447.4,346.0 450.9,346.0 452.7,343.7 455.3,343.7 457.1,342.6 459.6,342.6 461.4,350.3 464.0,350.3 465.8,354.8 468.4,354.8 470.2,361.8 472.8,361.8 474.6,367.2 477.2,367.2 479.0,373.8 481.5,373.8 483.3,377.1 485.9,377.1 487.7,380.8 490.3,380.8 492.1,375.9 494.7,375.9 496.5,375.1 499.1,375.1 500.9,377.8 503.5,377.8 505.3,381.4 507.8,381.4 509.6,383.3 512.2,383.3 514.0,381.2 516.6,381.2 518.4,375.4 521.0,375.4 522.8,366.1 525.4,366.1 527.2,364.4 529.7,364.4 531.5,366.1 534.1,366.1 535.9,370.4 538.5,370.4 540.3,373.5 542.9,373.5 544.7,369.7 547.3,369.7 549.1,365.9 551.6,365.9 553.4,359.9 556.0,359.9 557.8,354.1 560.4,354.1 562.2,353.3 564.8,353.3 566.6,351.2 569.2,351.2 571.0,349.5 573.5,349.5 575.3,351.4 577.9,351.4 579.7,355.6 582.3,355.6 584.1,358.7 586.7,358.7 588.5,363.8 591.1,363.8 592.9,365.0 595.5,365.0 597.3,376.2 599.8,376.2 601.6,386.7 604.2,386.7 606.0,409.0 608.6,409.0 610.4,442.7 613.0,442.7 614.8,441.8 617.4,441.8 619.2,434.0 621.7,434.0 623.5,411.3 626.1,411.3 627.9,376.2 630.5,376.2 632.3,364.3 634.9,364.3 636.7,363.5 639.3,363.5 641.1,362.2 643.6,362.2 645.4,360.5 648.0,360.5 649.8,368.7 652.4,368.7 654.2,373.2 656.8,373.2 658.6,385.4 661.2,385.4 663.0,394.1 665.5,394.1 667.4,396.3 669.9,396.3 671.7,398.2 674.3,398.2 676.1,399.4 678.7,399.4 680.5,399.7 683.1,399.7 684.9,390.8 687.5,390.8 689.3,384.9 691.8,384.9 693.6,378.7 696.2,378.7 698.0,372.3 700.6,372.3 702.4,374.8 705.0,374.8 706.8,373.7 709.4,373.7 711.2,372.4 713.7,372.4 715.5,368.5 718.1,368.5 719.9,367.5 722.5,367.5 724.3,367.1 726.9,367.1 728.7,368.3 731.3,368.3 733.1,370.3 735.6,370.3 737.4,370.3 740.0,370.3 741.8,370.3 744.4,370.3 746.2,367.7 748.8,367.7 750.6,366.2 753.2,366.2 755.0,364.3 757.6,364.3" fill="none" stroke="#6aaac8" stroke-width="2.3" stroke-linejoin="round" stroke-linecap="round"/>
<path d="M447.3 325.1V450" fill="none" stroke="#1a1a1a" stroke-width="1.2"/><path d="M444.3 325.6H447.3M444.3 346.2H447.3M444.3 366.8H447.3M444.3 387.4H447.3M444.3 408.0H447.3M444.3 428.6H447.3M444.3 449.2H447.3" fill="none" stroke="#222" stroke-width="0.9"/>
<path d="M759.4 325.1V450" fill="none" stroke="#1a1a1a" stroke-width="1.2"/><path d="M762.4 325.6H759.4M762.4 346.2H759.4M762.4 366.8H759.4M762.4 387.4H759.4M762.4 408.0H759.4M762.4 428.6H759.4M762.4 449.2H759.4" fill="none" stroke="#222" stroke-width="0.9"/>
<path d="M446.6 449.4H760.1" fill="none" stroke="#111" stroke-width="1.4"/><path d="M447.4 449.4v3M482.4 449.4v3M517.5 449.4v3M552.5 449.4v3M587.6 449.4v3M622.6 449.4v3M657.7 449.4v3M692.8 449.4v3M727.8 449.4v3" fill="none" stroke="#222" stroke-width="0.9"/>
<text x="438.1" y="329.1" font-size="10.3" fill="#1a1a1a" text-anchor="end" textLength="10.8" lengthAdjust="spacingAndGlyphs">65</text>
<text x="438.1" y="349.7" font-size="10.3" fill="#1a1a1a" text-anchor="end" textLength="10.8" lengthAdjust="spacingAndGlyphs">60</text>
<text x="438.1" y="370.3" font-size="10.3" fill="#1a1a1a" text-anchor="end" textLength="10.8" lengthAdjust="spacingAndGlyphs">55</text>
<text x="438.1" y="390.9" font-size="10.3" fill="#1a1a1a" text-anchor="end" textLength="10.8" lengthAdjust="spacingAndGlyphs">50</text>
<text x="438.1" y="411.5" font-size="10.3" fill="#1a1a1a" text-anchor="end" textLength="10.8" lengthAdjust="spacingAndGlyphs">45</text>
<text x="438.1" y="432.1" font-size="10.3" fill="#1a1a1a" text-anchor="end" textLength="10.8" lengthAdjust="spacingAndGlyphs">40</text>
<text x="438.1" y="452.7" font-size="10.3" fill="#1a1a1a" text-anchor="end" textLength="10.8" lengthAdjust="spacingAndGlyphs">35</text>
<text x="777.1" y="329.1" font-size="10.3" fill="#1a1a1a" text-anchor="end" textLength="5.4" lengthAdjust="spacingAndGlyphs">6</text>
<text x="777.1" y="349.7" font-size="10.3" fill="#1a1a1a" text-anchor="end" textLength="5.4" lengthAdjust="spacingAndGlyphs">4</text>
<text x="777.1" y="370.3" font-size="10.3" fill="#1a1a1a" text-anchor="end" textLength="5.4" lengthAdjust="spacingAndGlyphs">2</text>
<text x="777.1" y="390.9" font-size="10.3" fill="#1a1a1a" text-anchor="end" textLength="5.4" lengthAdjust="spacingAndGlyphs">0</text>
<text x="777.1" y="411.5" font-size="10.3" fill="#1a1a1a" text-anchor="end" textLength="8.6" lengthAdjust="spacingAndGlyphs">-2</text>
<text x="777.1" y="432.1" font-size="10.3" fill="#1a1a1a" text-anchor="end" textLength="8.6" lengthAdjust="spacingAndGlyphs">-4</text>
<text x="777.1" y="452.7" font-size="10.3" fill="#1a1a1a" text-anchor="end" textLength="8.6" lengthAdjust="spacingAndGlyphs">-6</text>
<text x="448.0" y="466.0" font-size="10.3" fill="#1a1a1a" text-anchor="middle" textLength="12.6" lengthAdjust="spacingAndGlyphs">'00</text>
<text x="483.1" y="466.0" font-size="10.3" fill="#1a1a1a" text-anchor="middle" textLength="12.6" lengthAdjust="spacingAndGlyphs">'02</text>
<text x="518.1" y="466.0" font-size="10.3" fill="#1a1a1a" text-anchor="middle" textLength="12.6" lengthAdjust="spacingAndGlyphs">'04</text>
<text x="553.1" y="466.0" font-size="10.3" fill="#1a1a1a" text-anchor="middle" textLength="12.6" lengthAdjust="spacingAndGlyphs">'06</text>
<text x="588.2" y="466.0" font-size="10.3" fill="#1a1a1a" text-anchor="middle" textLength="12.6" lengthAdjust="spacingAndGlyphs">'08</text>
<text x="623.2" y="466.0" font-size="10.3" fill="#1a1a1a" text-anchor="middle" textLength="12.6" lengthAdjust="spacingAndGlyphs">'10</text>
<text x="658.3" y="466.0" font-size="10.3" fill="#1a1a1a" text-anchor="middle" textLength="12.6" lengthAdjust="spacingAndGlyphs">'12</text>
<text x="693.3" y="466.0" font-size="10.3" fill="#1a1a1a" text-anchor="middle" textLength="12.6" lengthAdjust="spacingAndGlyphs">'14</text>
<text x="728.4" y="466.0" font-size="10.3" fill="#1a1a1a" text-anchor="middle" textLength="12.6" lengthAdjust="spacingAndGlyphs">'16</text>
<polygon points="458.3,332 469.2,327 469.2,337" fill="#6f7072"/>
<text x="474.8" y="335.8" font-size="10.2" fill="#6f7072" font-weight="bold" textLength="17.4" lengthAdjust="spacingAndGlyphs">EMI</text>
<text x="716.3" y="335.6" font-size="10.2" fill="#6aaac8" font-weight="bold" textLength="15.8" lengthAdjust="spacingAndGlyphs">BIP</text>
<polygon points="750.8,331.8 739.8,326.8 739.8,336.8" fill="#6aaac8"/>
<text x="53.1" y="482.9" font-size="8.2" fill="#111" textLength="573.0" lengthAdjust="spacingAndGlyphs">Quelle: (Links und oben rechts) Eurostat, Thomson Reuters Datastream, J.P. Morgan Asset Management. (Unten rechts) Eurostat, Markit, Thomson Reuters</text>
<text x="53.1" y="493.2" font-size="8.2" fill="#111" textLength="544" lengthAdjust="spacingAndGlyphs">Datastream, J.P. Morgan Asset Management. Die hellgrauen Balken in allen Diagrammen markieren eine Rezession. <tspan font-style="italic">Guide to the Markets - Europe.</tspan></text>
<text x="53.1" y="503.4" font-size="8.2" fill="#111" textLength="142.0" lengthAdjust="spacingAndGlyphs">Stand der Daten: 30. September 2017.</text>
<text x="19.2" y="542.6" font-size="12.6" fill="#111" stroke="#111" stroke-width="0.25">5</text>
<text x="677.3" y="525.6" class="sf" font-size="25" fill="#4b2e22" stroke="#4b2e22" stroke-width="0.5" textLength="104.5" lengthAdjust="spacingAndGlyphs">J.P.Morgan</text>
<path d="M677.5 530.4H746M758.5 530.4H781.6" stroke="#5f5f5f" stroke-width="0.9" fill="none"/>
<text x="678.0" y="543.2" font-size="13.2" fill="#6f7073" textLength="102.8" lengthAdjust="spacingAndGlyphs" stroke="#747577" stroke-width="0.2">Asset Management</text>
</svg>
</body></html>
